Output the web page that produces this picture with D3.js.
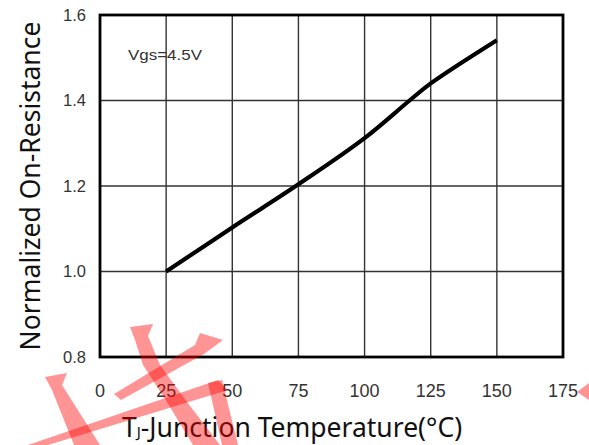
<!DOCTYPE html>
<html>
<head>
<meta charset="utf-8">
<script src="https://cdn.jsdelivr.net/npm/d3@7"></script>
<style>
  html, body { margin: 0; padding: 0; background: #fff; }
  svg { display: block; }
</style>
</head>
<body>
<svg id="chart" width="589" height="445"></svg>
<script>
// ---- data ----
const tempC = [25, 50, 75, 100, 117, 125, 150];
const normRon = [1.0, 1.103, 1.204, 1.312, 1.40, 1.44, 1.541];
const xTicks = [0, 25, 50, 75, 100, 125, 150, 175];
const yTicks = [0.8, 1.0, 1.2, 1.4, 1.6];
const yTickLabels = ["0.8", "1.0", "1.2", "1.4", "1.6"];
const annotation = "Vgs=4.5V";

const svg = d3.select("#chart");
const x = d3.scaleLinear().domain([0, 175]).range([100, 563]);
const y = d3.scaleLinear().domain([0.8, 1.6]).range([357, 15]);

// grid
const g = svg.append("g");
g.selectAll(".vg").data(xTicks.slice(1, -1)).enter().append("line")
  .attr("x1", d => x(d)).attr("x2", d => x(d))
  .attr("y1", y(1.6)).attr("y2", y(0.8))
  .attr("stroke", "#333").attr("stroke-width", 1.4);
g.selectAll(".hg").data(yTicks.slice(1, -1)).enter().append("line")
  .attr("x1", x(0)).attr("x2", x(175))
  .attr("y1", d => y(d)).attr("y2", d => y(d))
  .attr("stroke", "#333").attr("stroke-width", 1.4);

// frame
g.append("rect")
  .attr("x", x(0)).attr("y", y(1.6))
  .attr("width", x(175) - x(0)).attr("height", y(0.8) - y(1.6))
  .attr("fill", "none").attr("stroke", "#000").attr("stroke-width", 2.8);

// curve
const line = d3.line().x((d, i) => x(tempC[i])).y(d => y(d)).curve(d3.curveCatmullRom.alpha(0.5));
g.append("path").datum(normRon)
  .attr("d", line)
  .attr("fill", "none").attr("stroke", "#000").attr("stroke-width", 4.2)
  .attr("stroke-linecap", "butt").attr("stroke-linejoin", "round");

// y tick labels
g.selectAll(".yt").data(yTicks).enter().append("text")
  .attr("x", 86).attr("y", d => y(d))
  .attr("dy", "0.36em")
  .attr("text-anchor", "end")
  .attr("font-family", "Liberation Sans, Arial, sans-serif")
  .attr("font-size", 16.5).attr("fill", "#333")
  .text((d, i) => yTickLabels[i]);

// x tick labels
g.selectAll(".xt").data(xTicks).enter().append("text")
  .attr("x", d => x(d)).attr("y", 397)
  .attr("text-anchor", "middle")
  .attr("font-family", "Liberation Sans, Arial, sans-serif")
  .attr("font-size", 18).attr("fill", "#333")
  .text(d => d);

// annotation
g.append("text")
  .attr("x", 128).attr("y", 60)
  .attr("font-family", "Liberation Sans, Arial, sans-serif")
  .attr("font-size", 15).attr("fill", "#333")
  .attr("textLength", 74).attr("lengthAdjust", "spacingAndGlyphs")
  .text(annotation);

// axis titles
g.append("text")
  .attr("transform", "translate(40,186) rotate(-90)")
  .attr("text-anchor", "middle")
  .attr("font-family", "Noto Sans, Open Sans, sans-serif")
  .attr("font-size", 26.5).attr("fill", "#111")
  .text("Normalized On-Resistance");

const xt = g.append("text")
  .attr("x", 292).attr("y", 437)
  .attr("text-anchor", "middle")
  .attr("font-family", "Noto Sans, Open Sans, sans-serif")
  .attr("font-size", 26.5).attr("fill", "#111");
xt.append("tspan").text("T");
xt.append("tspan").attr("font-size", 15).text("J");
xt.append("tspan").text("-Junction Temperature(°C)");

// watermark (decorative)
const wm = [
  [[130,327],[153,324],[148,336],[160,365],[187,402],[220,445],[193,445],[167,402],[143,365],[135,340]],
  [[200,333],[223,340],[204,354],[121,400],[114,394],[195,345]],
  [[45,377],[67,373],[62,385],[100,445],[74,445],[52,390]],
  [[218,380],[228,390],[48,445],[28,445]],
  [[208,383],[222,380],[238,445],[222,445]],
  [[577,392],[589,383],[589,400]]
];
svg.append("g").selectAll("path").data(wm).enter().append("path")
  .attr("d", d => "M" + d.map(p => p.join(",")).join("L") + "Z")
  .attr("fill", "rgb(255,0,0)").attr("fill-opacity", 0.42);
</script>
</body>
</html>
